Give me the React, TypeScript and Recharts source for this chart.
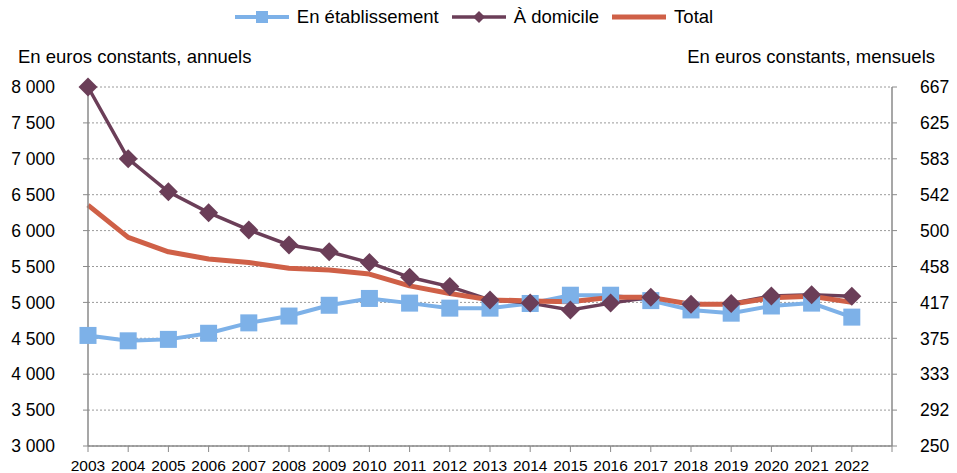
import { LineChart, Line, XAxis, YAxis, CartesianGrid, Legend } from 'recharts';

const years = [2003, 2004, 2005, 2006, 2007, 2008, 2009, 2010, 2011, 2012, 2013, 2014, 2015, 2016, 2017, 2018, 2019, 2020, 2021, 2022];
const etablissement = [4540, 4465, 4485, 4570, 4715, 4810, 4960, 5055, 4990, 4920, 4920, 4985, 5100, 5100, 5025, 4895, 4850, 4950, 4990, 4795];
const domicile = [8000, 7000, 6540, 6250, 6010, 5800, 5705, 5555, 5350, 5220, 5035, 4990, 4895, 4990, 5070, 4975, 4985, 5090, 5105, 5085];
const total = [6355, 5905, 5705, 5605, 5555, 5475, 5450, 5395, 5230, 5125, 5035, 5020, 5010, 5070, 5070, 4975, 4975, 5065, 5085, 5000];

const xTicks = [2003, 2004, 2005, 2006, 2007, 2008, 2009, 2010, 2011, 2012, 2013, 2014, 2015, 2016, 2017, 2018, 2019, 2020, 2021, 2022, 2023];
const leftTicks = [3000, 3500, 4000, 4500, 5000, 5500, 6000, 6500, 7000, 7500, 8000];
// monthly axis = annual / 12
const rightTicks = leftTicks.map(v => v / 12);

const BLUE = '#7DB1E8';
const PLUM = '#6B3E58';
const ORANGE = '#CF6047';
const AXIS = '#8a8a8a';
const FONT = '"Liberation Sans", Arial, sans-serif';

const data = years.map((y, i) => ({
  year: y,
  etab: etablissement[i],
  dom: domicile[i],
  total: total[i],
}));

const fmtThousands = (v: number) => {
  const s = String(Math.round(v));
  return s.length > 3 ? s.slice(0, s.length - 3) + '\u00a0' + s.slice(-3) : s;
};

function SquareDot(props: any) {
  const { cx, cy } = props;
  if (cx == null || cy == null) return null;
  return <rect x={cx - 8.5} y={cy - 8.5} width={17} height={17} fill={BLUE} />;
}

function DiamondDot(props: any) {
  const { cx, cy } = props;
  if (cx == null || cy == null) return null;
  const r = 9.5;
  return <path d={`M${cx},${cy - r}L${cx + r},${cy}L${cx},${cy + r}L${cx - r},${cy}Z`} fill={PLUM} />;
}

const LEGEND = [
  { label: 'En établissement', color: BLUE, width: 4, marker: 'square' },
  { label: 'À domicile', color: PLUM, width: 3.5, marker: 'diamond' },
  { label: 'Total', color: ORANGE, width: 5, marker: 'none' },
];

function LegendBox() {
  return (
    <div style={{ height: 87, fontFamily: FONT }}>
      <div style={{ display: 'flex', justifyContent: 'center', alignItems: 'center', height: 34, paddingLeft: 4 }}>
        {LEGEND.map(it => (
          <div key={it.label} style={{ display: 'flex', alignItems: 'center', marginRight: 13 }}>
            <svg width={54} height={20}>
              <line x1={0} y1={10} x2={54} y2={10} stroke={it.color} strokeWidth={it.width} strokeLinecap="round" />
              {it.marker === 'square' && <rect x={21} y={4} width={12} height={12} fill={it.color} />}
              {it.marker === 'diamond' && <path d="M27,4L33,10L27,16L21,10Z" fill={it.color} />}
            </svg>
            <span style={{ fontSize: 18.5, color: '#000', marginLeft: 8 }}>{it.label}</span>
          </div>
        ))}
      </div>
    </div>
  );
}

export default function App() {
  return (
    <div style={{ position: 'fixed', left: 0, top: 0, width: 957, height: 473, background: '#fff' }}>
      <LineChart
        width={957}
        height={473}
        data={data}
        margin={{ top: 0, right: 0, bottom: 0, left: 0 }}
        style={{ fontFamily: FONT }}
      >
        <Legend verticalAlign="top" content={() => <LegendBox />} />
        <CartesianGrid yAxisId="left" vertical={false} stroke="#9a9a9a" strokeDasharray="2 2" />
        <XAxis
          dataKey="year"
          type="number"
          domain={[2003, 2023]}
          ticks={xTicks}
          interval={0}
          height={27}
          tickFormatter={(v: number) => (v === 2023 ? '' : String(v))}
          tick={{ fill: '#000', fontSize: 15.5 }}
          axisLine={{ stroke: AXIS, strokeWidth: 1.5 }}
          tickLine={{ stroke: AXIS }}
          tickSize={6}
          tickMargin={8}
        />
        <YAxis
          yAxisId="left"
          width={88}
          domain={[3000, 8000]}
          ticks={leftTicks}
          interval={0}
          tickFormatter={fmtThousands}
          tick={{ fill: '#000', fontSize: 17.5 }}
          axisLine={{ stroke: AXIS, strokeWidth: 1.5 }}
          tickLine={{ stroke: AXIS }}
          tickSize={5}
          tickMargin={28}
          label={{
            content: (p: any) => (
              <text x={18} y={(p.viewBox?.y ?? 87) - 24} fontSize={18.5} fill="#000" textAnchor="start">
                En euros constants, annuels
              </text>
            ),
          }}
        />
        <YAxis
          yAxisId="right"
          orientation="right"
          width={65}
          domain={[250, 8000 / 12]}
          ticks={rightTicks}
          interval={0}
          allowDataOverflow
          tickFormatter={(v: number) => String(Math.round(v))}
          tick={{ fill: '#000', fontSize: 17.5 }}
          axisLine={{ stroke: AXIS, strokeWidth: 1.5 }}
          tickLine={{ stroke: AXIS }}
          tickSize={5}
          tickMargin={23}
          label={{
            content: (p: any) => (
              <text x={(p.viewBox?.x ?? 892) + 43} y={(p.viewBox?.y ?? 87) - 24} fontSize={18.5} fill="#000" textAnchor="end">
                En euros constants, mensuels
              </text>
            ),
          }}
        />
        <Line
          yAxisId="left"
          dataKey="etab"
          name="En établissement"
          type="linear"
          stroke={BLUE}
          strokeWidth={4}
          dot={<SquareDot />}
          activeDot={false}
          isAnimationActive={false}
        />
        <Line
          yAxisId="left"
          dataKey="dom"
          name="À domicile"
          type="linear"
          stroke={PLUM}
          strokeWidth={3.5}
          dot={<DiamondDot />}
          activeDot={false}
          isAnimationActive={false}
        />
        <Line
          yAxisId="left"
          dataKey="total"
          name="Total"
          type="linear"
          stroke={ORANGE}
          strokeWidth={5}
          strokeLinejoin="round"
          dot={false}
          activeDot={false}
          isAnimationActive={false}
        />
      </LineChart>
    </div>
  );
}
